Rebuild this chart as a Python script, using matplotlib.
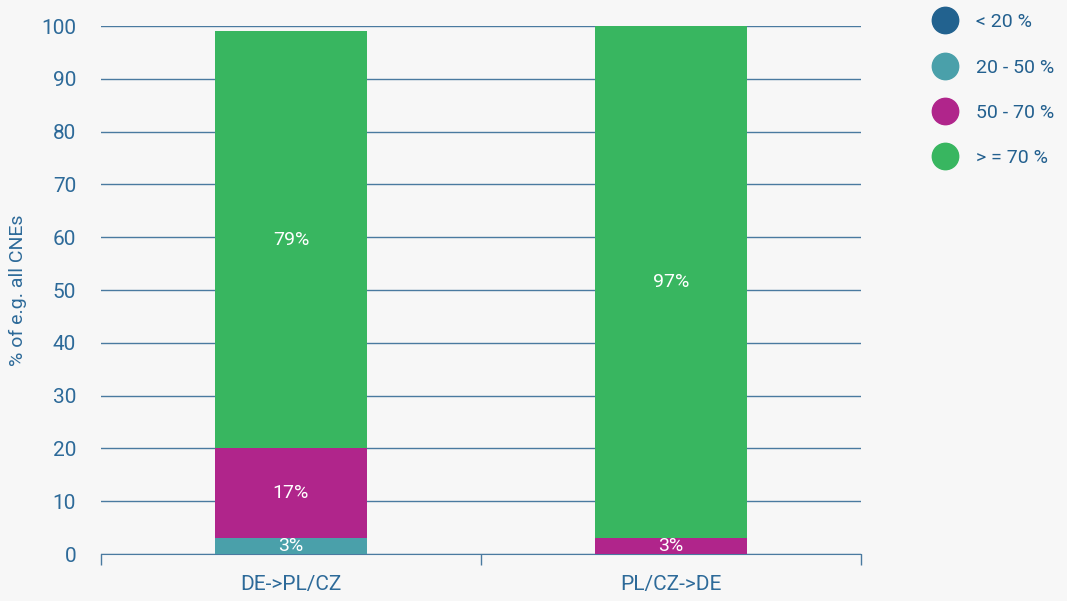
import numpy as np
import matplotlib
matplotlib.use('Agg')
import matplotlib.pyplot as plt
from matplotlib.lines import Line2D

categories = ['DE->PL/CZ', 'PL/CZ->DE']
series_names = ['< 20 %', '20 - 50 %', '50 - 70 %', '> = 70 %']
lt20 = [0, 0]
b20_50 = [3, 0]
b50_70 = [17, 3]
ge70 = [79, 97]
colors = ['#22628f', '#4aa0aa', '#b0258b', '#38b660']

text_col = '#2d6a99'
grid_col = '#4a7aa0'
bg = '#f7f7f7'

plt.rcParams['font.family'] = ['Roboto', 'DejaVu Sans']

fig = plt.figure(figsize=(10.67, 6.01), dpi=100, facecolor=bg)
ax = fig.add_axes([0.0947, 0.0782, 0.712, 0.8785], facecolor=bg)

x = np.arange(len(categories))
bottom = np.zeros(len(categories))
for vals, c in zip([lt20, b20_50, b50_70, ge70], colors):
    vals = np.array(vals, dtype=float)
    ax.bar(x, vals, 0.4, bottom=bottom, color=c, zorder=3)
    for xi, v, b in zip(x, vals, bottom):
        if v > 0:
            ax.text(xi, b + v / 2, f'{v:.0f}%', ha='center', va='center',
                    color='white', fontsize=14, zorder=4)
    bottom += vals

ax.set_xlim(-0.5, 1.5)
ax.set_ylim(0, 100)
ax.set_yticks(np.arange(0, 101, 10))
ax.yaxis.grid(True, color=grid_col, linewidth=1)
ax.set_axisbelow(True)
ax.tick_params(axis='y', length=0, labelsize=15, labelcolor=text_col, pad=18)
ax.set_xticks(x)
ax.set_xticklabels(categories)
ax.set_xticks([-0.5, 0.5, 1.5], minor=True)
ax.tick_params(axis='x', which='major', length=0, labelsize=15,
               labelcolor=text_col, pad=15)
ax.tick_params(axis='x', which='minor', length=8, color=grid_col, width=1)
for s in ['top', 'right', 'left']:
    ax.spines[s].set_visible(False)
ax.spines['bottom'].set_color(grid_col)
ax.set_ylabel('% of e.g. all CNEs', fontsize=14, color=text_col, labelpad=10)

handles = [Line2D([0], [0], marker='o', linestyle='', markersize=19,
                  markerfacecolor=c, markeredgecolor=c) for c in colors]
leg = fig.legend(handles, series_names, loc='upper left',
                 bbox_to_anchor=(0.8506, 1.007), frameon=False,
                 prop={'size': 14}, labelspacing=1.4,
                 handletextpad=0.63)
for t in leg.get_texts():
    t.set_color('#23608f')

fig.savefig('out.png', dpi=100, facecolor=bg)
